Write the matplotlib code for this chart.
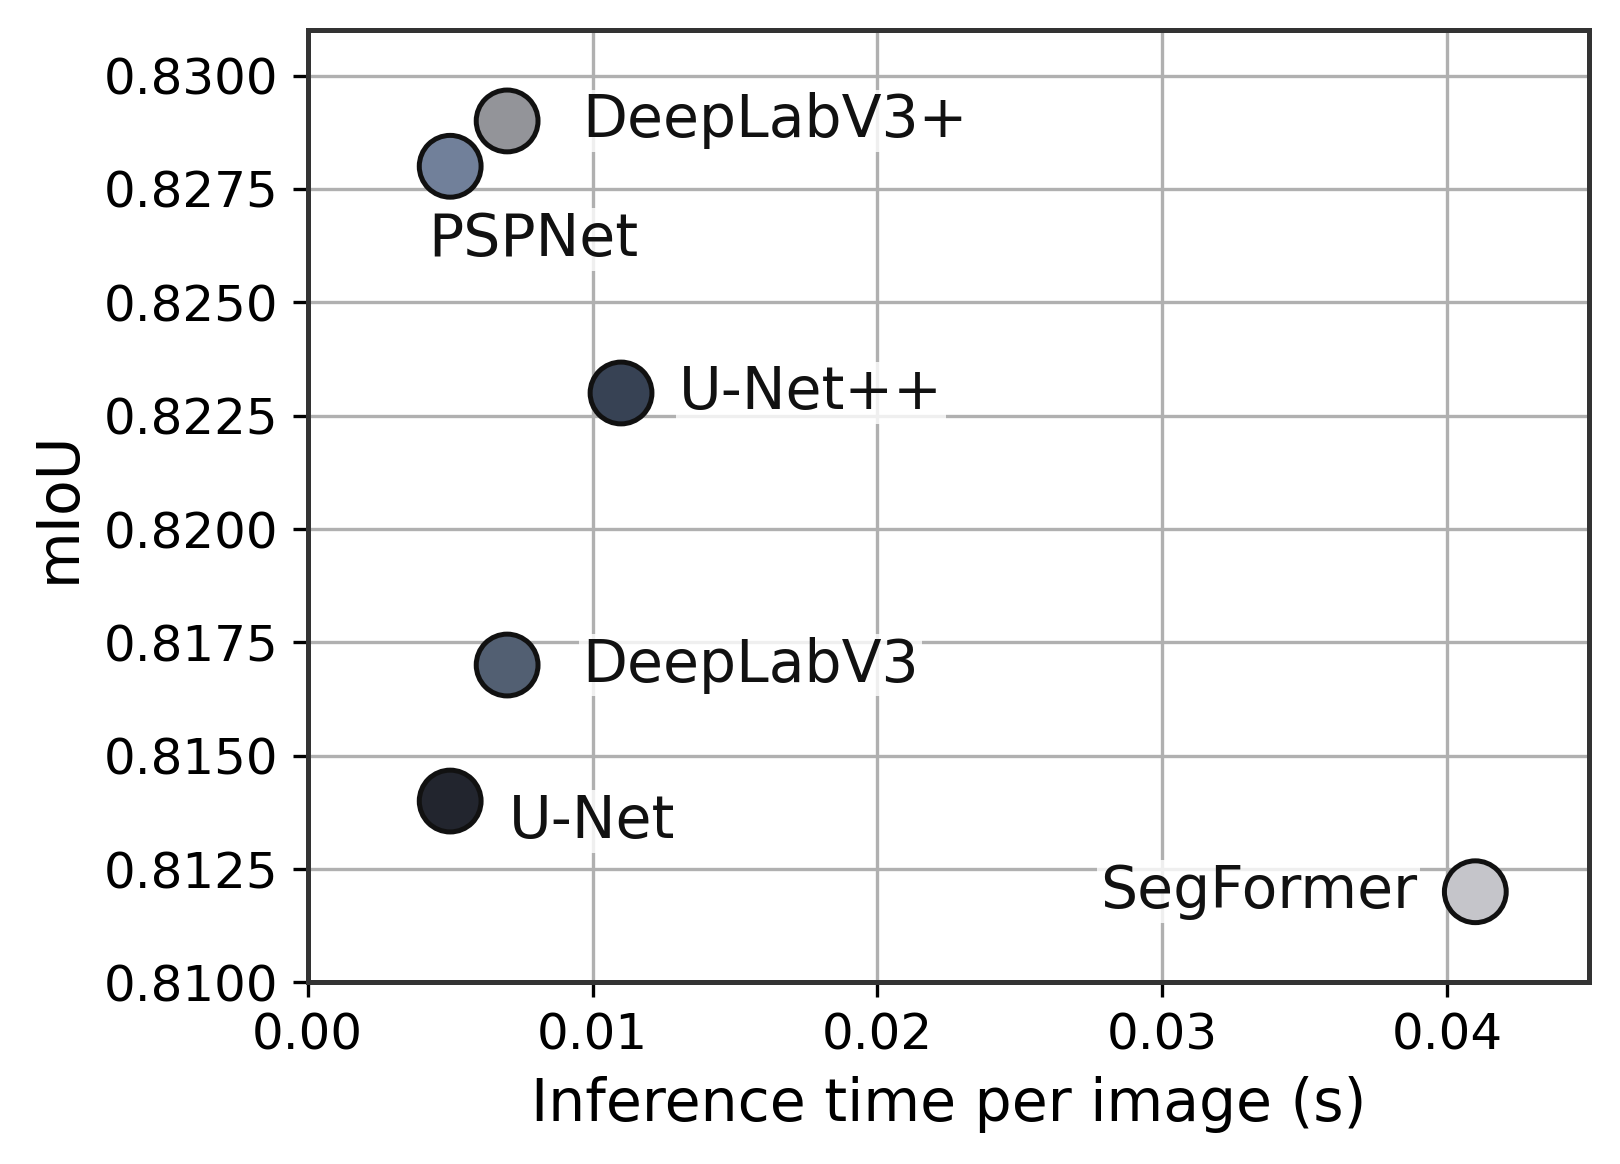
import matplotlib
matplotlib.use("Agg")
import matplotlib.pyplot as plt

models = ["U-Net", "U-Net++", "PSPNet", "DeepLabV3", "DeepLabV3+", "SegFormer"]
times = [0.005, 0.011, 0.005, 0.007, 0.007, 0.041]
miou = [0.814, 0.823, 0.828, 0.817, 0.829, 0.812]
colors = ["#22252e", "#374254", "#71809a", "#525f72", "#939499", "#c5c5ca"]

# label offsets in points (dx, dy, ha)
offsets = {
    "U-Net": (14, -5, "left"),
    "U-Net++": (14, 0, "left"),
    "PSPNet": (20, -17.5, "center"),
    "DeepLabV3": (18, 0, "left"),
    "DeepLabV3+": (18, 0, "left"),
    "SegFormer": (-14, 0, "right"),
}

fig = plt.figure(figsize=(5.4, 3.88), dpi=300)
ax = fig.add_axes([0.190, 0.156, 0.791, 0.818])

ax.grid(True, color="#b0b0b0", linewidth=0.8, zorder=0)
ax.set_axisbelow(True)

ax.scatter(times, miou, s=220, c=colors, edgecolors="#111111", linewidths=1.2, zorder=3)

for name, x, y in zip(models, times, miou):
    dx, dy, ha = offsets[name]
    ax.annotate(name, (x, y), xytext=(dx, dy), textcoords="offset points",
                ha=ha, va="center", fontsize=14, color="#111111",
                bbox=dict(boxstyle="square,pad=0.05", fc="white", ec="none", alpha=0.8),
                zorder=4)

ax.set_xlim(0, 0.045)
ax.set_ylim(0.81, 0.831)
ax.set_xticks([0.0, 0.01, 0.02, 0.03, 0.04])
ax.set_xticklabels(["0.00", "0.01", "0.02", "0.03", "0.04"])
ax.set_yticks([0.81, 0.8125, 0.815, 0.8175, 0.82, 0.8225, 0.825, 0.8275, 0.83])
ax.set_yticklabels(["%.4f" % v for v in ax.get_yticks()])
ax.tick_params(labelsize=12)

for s in ax.spines.values():
    s.set_color("#333333")
    s.set_linewidth(1.2)

ax.set_xlabel("Inference time per image (s)", fontsize=14)
ax.set_ylabel("mIoU", fontsize=14)

fig.savefig("out.png", dpi=300)
